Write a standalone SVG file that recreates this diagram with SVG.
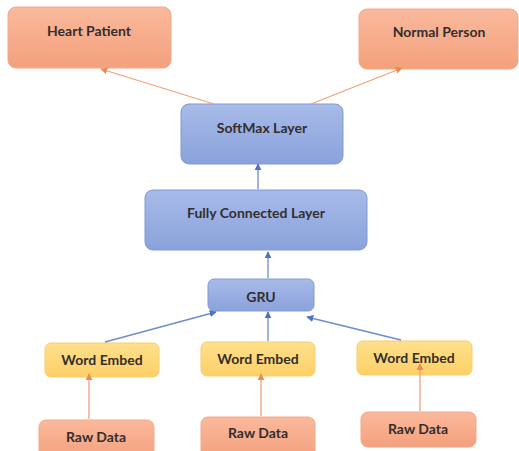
<svg xmlns="http://www.w3.org/2000/svg" width="519" height="451" viewBox="0 0 519 451">
<defs>
<linearGradient id="gO" x1="0" y1="0" x2="0" y2="1"><stop offset="0" stop-color="#fab99c"/><stop offset="1" stop-color="#f4a07c"/></linearGradient>
<linearGradient id="gB" x1="0" y1="0" x2="0" y2="1"><stop offset="0" stop-color="#a8bbe9"/><stop offset="1" stop-color="#8aa2db"/></linearGradient>
<linearGradient id="gY" x1="0" y1="0" x2="0" y2="1"><stop offset="0" stop-color="#ffe08c"/><stop offset="1" stop-color="#fdd067"/></linearGradient>
<marker id="aO" viewBox="0 0 10 10" refX="9" refY="5" markerWidth="7" markerHeight="7" orient="auto-start-reverse" markerUnits="userSpaceOnUse"><path d="M0,0 L10,5 L0,10 z" fill="#ee8a4e"/></marker>
<marker id="aB" viewBox="0 0 10 10" refX="9" refY="5" markerWidth="7" markerHeight="7" orient="auto-start-reverse" markerUnits="userSpaceOnUse"><path d="M0,0 L10,5 L0,10 z" fill="#4c72c4"/></marker>
</defs>
<style>
.o{fill:url(#gO);stroke:#f2a98b;stroke-width:1}
.b{fill:url(#gB);stroke:#8299d3;stroke-width:1}
.y{fill:url(#gY);stroke:#f8cd6e;stroke-width:1}
text{font-family:Lato,"Liberation Sans",sans-serif;font-weight:700;font-size:14px;fill:#332e2e;text-anchor:middle}
.co{stroke:#f0a27a;stroke-width:1.3;fill:none;marker-end:url(#aO)}
.cb{stroke:#6d8ccf;stroke-width:1.3;fill:none;marker-end:url(#aB)}
</style>
<rect width="519" height="451" fill="#ffffff"/>
<g id="heart-patient"><rect class="o" x="8" y="7" width="163" height="61" rx="8"/><text x="89" y="36">Heart Patient</text></g>
<g id="normal-person"><rect class="o" x="359" y="9" width="159" height="60" rx="8"/><text x="439" y="37">Normal Person</text></g>
<g id="softmax"><rect class="b" x="181" y="104" width="162" height="60" rx="8"/><text x="262" y="133">SoftMax Layer</text></g>
<g id="fully-connected"><rect class="b" x="145" y="190" width="222" height="60" rx="8"/><text x="256" y="218">Fully Connected Layer</text></g>
<g id="gru"><rect class="b" x="208" y="279" width="106" height="32" rx="6"/><text x="261" y="302">GRU</text></g>
<g id="word-embed-1"><rect class="y" x="45" y="343" width="114" height="34" rx="6"/><text x="102" y="365">Word Embed</text></g>
<g id="word-embed-2"><rect class="y" x="201" y="342" width="114" height="34" rx="6"/><text x="258" y="364">Word Embed</text></g>
<g id="word-embed-3"><rect class="y" x="357" y="341" width="115" height="34" rx="6"/><text x="414" y="363">Word Embed</text></g>
<g id="raw-data-1"><rect class="o" x="39" y="420" width="115" height="40" rx="7"/><text x="96" y="442">Raw Data</text></g>
<g id="raw-data-2"><rect class="o" x="201" y="417" width="114" height="42" rx="7"/><text x="258" y="438">Raw Data</text></g>
<g id="raw-data-3"><rect class="o" x="361" y="412" width="115" height="35" rx="7"/><text x="418" y="434">Raw Data</text></g>
<g id="connectors">
<line class="co" x1="214" y1="104" x2="101" y2="69"/>
<line class="co" x1="311" y1="104" x2="402" y2="68"/>
<line class="cb" x1="258" y1="189" x2="258" y2="164"/>
<line class="cb" x1="268" y1="278" x2="268" y2="252"/>
<line class="cb" x1="105" y1="342" x2="216" y2="312"/>
<line class="cb" x1="268" y1="341" x2="268" y2="312"/>
<line class="cb" x1="401" y1="340" x2="307" y2="317"/>
<line class="co" x1="89" y1="419" x2="89" y2="374"/>
<line class="co" x1="261" y1="416" x2="261" y2="374"/>
<line class="co" x1="420" y1="411" x2="420" y2="364"/>
</g>
</svg>
